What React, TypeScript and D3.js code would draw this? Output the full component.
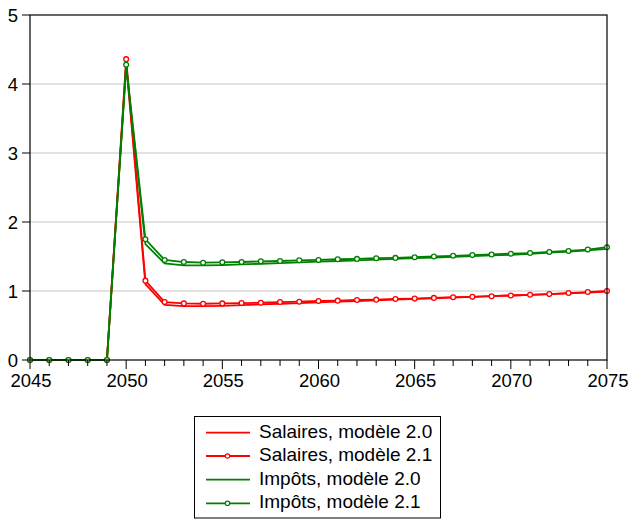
import React from "react";
import * as d3 from "d3";

const years = d3.range(2045, 2076);
const salaires20 = [0, 0, 0, 0, 0, 4.3, 1.1, 0.8, 0.78, 0.78, 0.785, 0.795, 0.805, 0.815, 0.825, 0.835, 0.845, 0.855, 0.865, 0.875, 0.885, 0.895, 0.905, 0.915, 0.925, 0.935, 0.945, 0.955, 0.965, 0.977, 0.99];
const salaires21 = [0, 0, 0, 0, 0, 4.36, 1.15, 0.84, 0.82, 0.815, 0.82, 0.825, 0.83, 0.84, 0.845, 0.855, 0.86, 0.87, 0.875, 0.885, 0.89, 0.9, 0.91, 0.915, 0.925, 0.935, 0.945, 0.955, 0.97, 0.985, 1.0];
const impots20 = [0, 0, 0, 0, 0, 4.25, 1.68, 1.4, 1.37, 1.37, 1.375, 1.385, 1.395, 1.405, 1.415, 1.425, 1.435, 1.445, 1.455, 1.465, 1.475, 1.485, 1.495, 1.505, 1.515, 1.525, 1.54, 1.555, 1.57, 1.59, 1.61];
const impots21 = [0, 0, 0, 0, 0, 4.28, 1.75, 1.45, 1.42, 1.41, 1.415, 1.42, 1.43, 1.435, 1.445, 1.45, 1.46, 1.465, 1.475, 1.48, 1.49, 1.5, 1.51, 1.52, 1.53, 1.54, 1.55, 1.565, 1.58, 1.6, 1.635];
const yTicks = [0, 1, 2, 3, 4, 5];
const xTicks = [2045, 2050, 2055, 2060, 2065, 2070, 2075];
const legendLabels = ["Salaires, modèle 2.0", "Salaires, modèle 2.1", "Impôts, modèle 2.0", "Impôts, modèle 2.1"];

const RED = "#ff0000";
const GREEN = "#008000";

export default function App() {
  const L = 30, R = 607, T = 15, B = 360;
  const x = d3.scaleLinear().domain([2045, 2075]).range([L, R]);
  const y = d3.scaleLinear().domain([0, 5]).range([B, T]);
  const line = d3.line<number>().x((_, i) => x(years[i])).y((d) => y(d));

  const series = [
    { data: salaires20, color: RED, markers: false },
    { data: salaires21, color: RED, markers: true },
    { data: impots20, color: GREEN, markers: false },
    { data: impots21, color: GREEN, markers: true },
  ];

  const font = "'Liberation Sans', Arial, sans-serif";
  const legendY = [432.7, 456, 479.7, 503.3];

  return (
    <svg width={630} height={520} style={{ position: "absolute", left: 0, top: 0, background: "#fff" }} fontFamily={font}>
      <rect x={0} y={0} width={630} height={520} fill="#fff" />
      {yTicks.filter((t) => t > 0 && t < 5).map((t) => (
        <line key={"g" + t} x1={L} x2={R} y1={y(t)} y2={y(t)} stroke="#d9d9d9" strokeWidth={1.5} />
      ))}
      {series.map((s, si) => (
        <g key={si}>
          <path d={line(s.data) || ""} fill="none" stroke={s.color} strokeWidth={1.8} />
          {s.markers &&
            s.data.map((d, i) => (
              <circle key={i} cx={x(years[i])} cy={y(d)} r={2.4} fill="#fff" stroke={s.color} strokeWidth={1.3} />
            ))}
        </g>
      ))}
      <rect x={L} y={T} width={R - L} height={B - T} fill="none" stroke="#000" strokeWidth={1.2} />
      {yTicks.map((t) => (
        <g key={"y" + t}>
          <line x1={L - 8} x2={L} y1={y(t)} y2={y(t)} stroke="#000" />
          <text x={L - 12} y={y(t)} dy="0.36em" textAnchor="end" fontSize={18.5}>{t}</text>
        </g>
      ))}
      {years.map((yr) => (
        <line key={"xt" + yr} x1={x(yr)} x2={x(yr)} y1={B} y2={B + (yr % 5 === 0 ? 9 : 6)} stroke="#000" />
      ))}
      {xTicks.map((t) => (
        <text key={"xl" + t} x={x(t) + 1} y={387} textAnchor="middle" fontSize={18.5}>{t}</text>
      ))}
      <rect x={194.5} y={416.5} width={246} height={101.5} fill="#fff" stroke="#000" strokeWidth={1} />
      {legendLabels.map((lab, i) => {
        const ly = legendY[i];
        const s = series[i];
        return (
          <g key={"lg" + i}>
            <line x1={206} x2={250} y1={ly} y2={ly} stroke={s.color} strokeWidth={1.8} />
            {s.markers && <circle cx={227.5} cy={ly} r={2.2} fill="#fff" stroke={s.color} strokeWidth={1.2} />}
            <text x={259} y={ly + 5} fontSize={19}>{lab}</text>
          </g>
        );
      })}
    </svg>
  );
}
